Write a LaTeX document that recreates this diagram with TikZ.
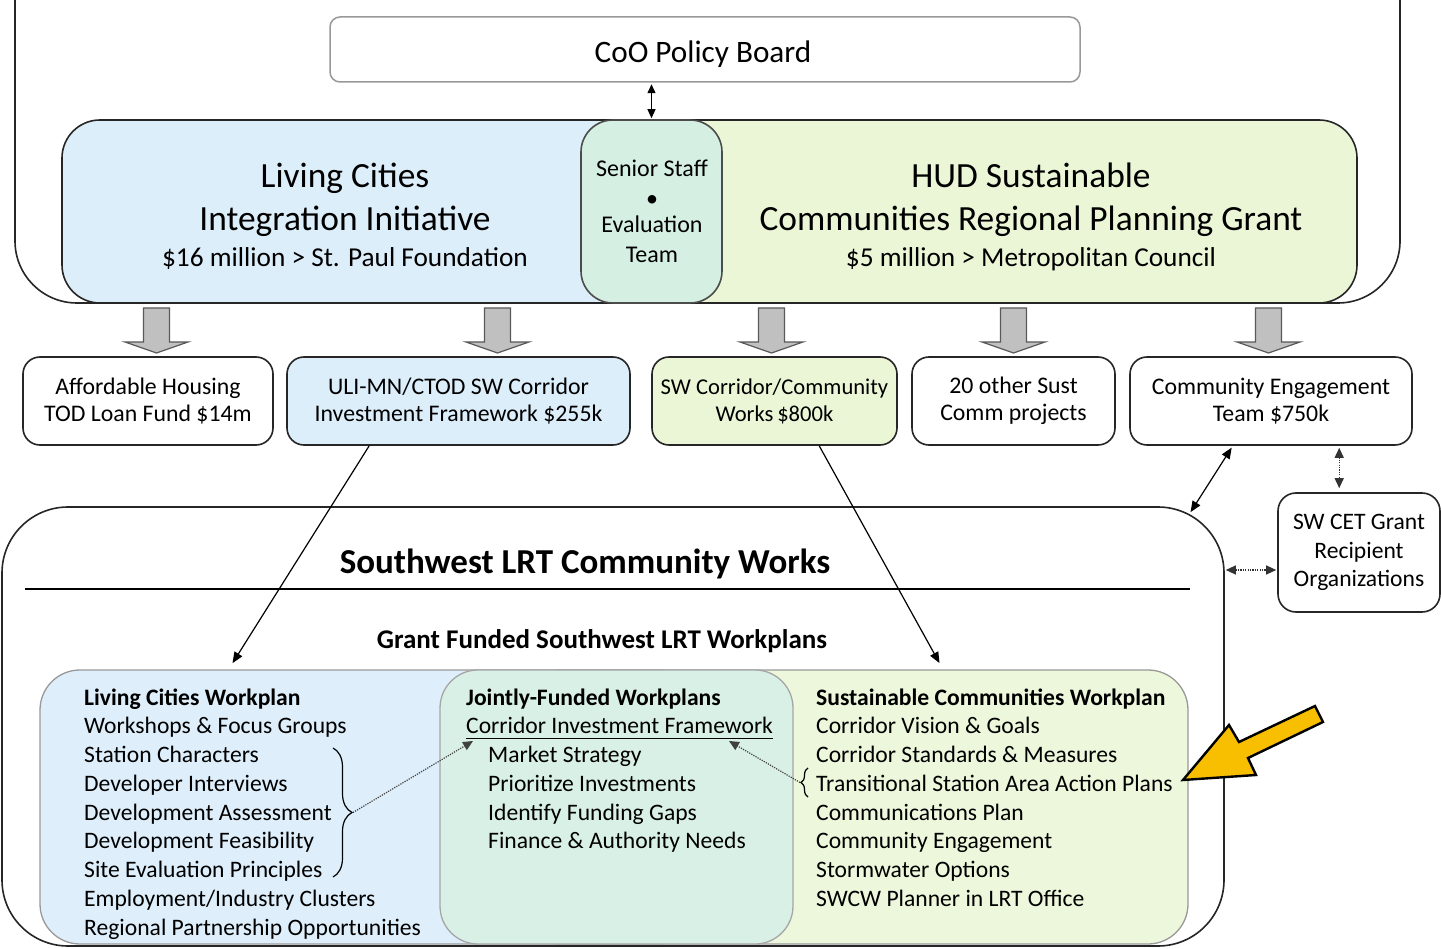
\documentclass[tikz,border=0pt]{standalone}
\usepackage{fontspec}
\setmainfont{Carlito}
\usetikzlibrary{arrows.meta,calc,fit,decorations.pathreplacing}

\definecolor{lcblue}{RGB}{221,238,251}
\definecolor{hudgreen}{RGB}{235,246,215}
\definecolor{staffteal}{RGB}{214,239,227}
\definecolor{planblue}{RGB}{222,239,251}
\definecolor{plangreen}{RGB}{236,247,220}
\definecolor{jointteal}{RGB}{217,240,231}
\definecolor{blockgray}{RGB}{192,192,192}
\definecolor{pointer}{RGB}{248,190,0}

\newcommand{\sizeat}[2]{\fontsize{#1}{#2}\selectfont}

\begin{document}
\begin{tikzpicture}[x=1pt,y=-1pt,
  box/.style={inner sep=0pt, line width=1.6pt, draw=black!85},
  rowbox/.style={box, rounded corners=17pt, minimum height=88pt, align=center,
    font=\sizeat{23.8}{27}},
  planbox/.style={inner sep=0pt, line width=1.3pt, draw=black!40, rounded corners=40pt},
  txt/.style={anchor=base, inner sep=0pt},
  item/.style={anchor=base west, inner sep=0pt, font=\sizeat{23.6}{28}},
  headitem/.style={item, font=\bfseries\sizeat{23.6}{28}},
  link/.style={-{Triangle[length=11pt,width=9pt]}, line width=1.2pt, shorten >=1pt},
  duplex/.style={{Triangle[length=11pt,width=9pt]}-{Triangle[length=11pt,width=9pt]},
    line width=1.2pt, shorten <=1pt, shorten >=1pt},
  dotduplex/.style={{Triangle[length=10pt,width=9pt]}-{Triangle[length=10pt,width=9pt]},
    line width=1.2pt, dash pattern=on 1.2pt off 1.2pt, draw=black!80,
    shorten <=1pt, shorten >=1pt},
  dotlink/.style={-{Triangle[length=10pt,width=9pt]}, line width=1.2pt,
    dash pattern=on 1.2pt off 1.2pt, draw=black!75},
  bracemark/.style={decorate, line width=1.2pt},
  downblock/.pic={\draw[fill=blockgray, draw=black!65, line width=1.2pt, line join=miter]
    (-13,0) -- (13,0) -- (13,34) -- (31.5,34) -- (0,45) -- (-31.5,34) -- (-13,34) -- cycle;}
]
\useasboundingbox (0,0) rectangle (1441,949);
\fill[white] (0,0) rectangle (1441,949);

% ---------- upper frame: policy board and the two funding programmes ----------
\draw[line width=1.6pt, draw=black!85, rounded corners=62pt]
  (15,-10) -- (15,303) -- (1400,303) -- (1400,-10);

\node[inner sep=0pt, line width=1.5pt, draw=black!40, rounded corners=10pt,
  fit={(330,17) (1080,82)}] (coo) {};
\node[txt, font=\sizeat{31.2}{34}] (cootxt) at (703,63) {CoO Policy Board};

\node[box, fill=lcblue, rounded corners=38pt, fit={(62,120) (700,303)}] (lci) {};
\node[box, fill=hudgreen, rounded corners=38pt, fit={(600,120) (1357,303)}] (hud) {};
\node[box, draw=black!70, fill=staffteal, rounded corners=32pt, fit={(581,120) (722,303)}] (staff) {};

\node[txt, font=\sizeat{35.4}{40}] (lct1) at (345,188) {Living Cities};
\node[txt, font=\sizeat{35.4}{40}] (lct2) at (345,231) {Integration Initiative};
\node[txt, font=\sizeat{27.3}{30}] (lct3) at (345,267) {\$16 million > St. Paul Foundation};

\node[txt, font=\sizeat{35.4}{40}] (hudt1) at (1031,188) {HUD Sustainable};
\node[txt, font=\sizeat{35.4}{40}] (hudt2) at (1031,231) {Communities Regional Planning Grant};
\node[txt, font=\sizeat{27.3}{30}] (hudt3) at (1031,267) {\$5 million > Metropolitan Council};

\node[txt, font=\sizeat{24}{28}] (st1) at (652,177) {Senior Staff};
\node[txt, font=\sizeat{24}{28}] (st2) at (652,207) {\textbullet};
\node[txt, font=\sizeat{24}{28}] (st3) at (652,233) {Evaluation};
\node[txt, font=\sizeat{24}{28}] (st4) at (652,263) {Team};

\draw[{Triangle[length=9pt,width=8pt]}-{Triangle[length=9pt,width=8pt]}, line width=1.3pt,
  shorten <=1.5pt, shorten >=1pt] (coo.south -| staff.north) -- (staff.north);

% ---------- funded projects ----------
\pic at (156.5,308) {downblock};
\pic at (497.5,308) {downblock};
\pic at (771.5,308) {downblock};
\pic at (1013.5,308) {downblock};
\pic at (1268.5,308) {downblock};

\node[rowbox, minimum width=250pt] (ah) at (148,401) {Affordable Housing\\TOD Loan Fund \$14m};
\node[rowbox, minimum width=343pt, fill=lcblue] (uli) at (458.5,401)
  {ULI-MN/CTOD SW Corridor\\Investment Framework \$255k};
\node[rowbox, minimum width=245pt, fill=hudgreen, font=\sizeat{22.6}{27}] (swc) at (774.5,401)
  {SW Corridor/Community\\Works\,\$800k};
\node[rowbox, minimum width=203pt] (oth) at (1013.5,401) {20 other Sust\\Comm projects};
\node[rowbox, minimum width=282pt] (ce) at (1271,401) {Community Engagement\\Team \$750k};

\node[box, rounded corners=18pt, align=center, font=\sizeat{23.6}{28.5},
  minimum width=162pt, minimum height=119pt] (cet) at (1359,552.5)
  {SW CET Grant\\Recipient\\Organizations};

% ---------- Southwest LRT Community Works ----------
\node[box, rounded corners=66pt, fit={(2,507) (1224,946)}] (swlrt) {};
\node[txt, font=\bfseries\sizeat{35}{40}] (swtitle) at (585,573) {Southwest LRT Community Works};
\draw[line width=1.2pt] (25,589) -- (1190,589);
\node[txt, font=\bfseries\sizeat{27}{32}] (grant) at (602,648) {Grant Funded Southwest LRT Workplans};

\node[planbox, fill=planblue, fit={(40,670) (700,944)}] (lcw) {};
\node[planbox, fill=plangreen, fit={(520,670) (1188,944)}] (scw) {};
\node[planbox, draw=black!35, fill=jointteal, rounded corners=38pt, fit={(440,670) (793,944)}] (jfw) {};

% Living Cities workplan
\node[headitem] (lchead) at (84,705) {Living Cities Workplan};
\foreach \t [count=\i] in {Workshops \& Focus Groups, Station Characters,
    Developer Interviews, Development Assessment, Development Feasibility,
    Site Evaluation Principles, Employment/Industry Clusters,
    Regional Partnership Opportunities}
  \node[item] (lc\i) at (84,705+28.75*\i) {\t};

% Jointly funded workplans
\node[headitem] (jfhead) at (466,705) {Jointly-Funded Workplans};
\node[item] (cif) at (466,733.75) {Corridor Investment Framework};
\draw[line width=1.3pt] ($(cif.base west)+(0,4.5)$) -- ($(cif.base east)+(0,4.5)$);
\foreach \t [count=\i from 2] in {Market Strategy, Prioritize Investments,
    Identify Funding Gaps, Finance \& Authority Needs}
  \node[item] (jf\i) at (488,705+28.75*\i) {\t};

% Sustainable Communities workplan
\node[headitem] (schead) at (816,705) {Sustainable Communities Workplan};
\foreach \t [count=\i] in {Corridor Vision \& Goals, Corridor Standards \& Measures,
    Transitional Station Area Action Plans, Communications Plan,
    Community Engagement, Stormwater Options, SWCW Planner in LRT Office}
  \node[item] (sc\i) at (816,705+28.75*\i) {\t};

% braces and the links they feed
\coordinate (lcbtop) at (333,748);
\coordinate (lcbbot) at (333,877);
\coordinate (lcbtip) at (353,812.5);
\draw[bracemark, decoration={brace, amplitude=19pt}] (lcbtop) -- (lcbbot);
\coordinate (scbbot) at (808,797);
\coordinate (scbtop) at (808,768);
\coordinate (scbtip) at (800,782.5);
\draw[bracemark, decoration={brace, amplitude=7pt}] (scbbot) -- (scbtop);

\coordinate (cifleft) at (473,741);
\coordinate (cifright) at (729,741);
\draw[dotlink] (lcbtip) -- (cifleft);
\draw[dotlink] (scbtip) -- (cifright);

% ---------- connectors between levels ----------
\coordinate (lcin) at (232,664);
\coordinate (scin) at (940,664);
\draw[link] ($(uli.south west)+(83,0)$) -- (lcin);
\draw[link] ($(swc.south west)+(168,0)$) -- (scin);

\coordinate (swnotch) at (1190,513);
\draw[duplex] ($(ce.south west)+(103,1)$) -- (swnotch);
\draw[dotduplex] ($(ce.south west)+(210,1)$) -- ($(cet.north west)+(62,-3)$);
\coordinate (cetport) at ($(cet.west)+(0,17.5)$);
\draw[dotduplex] (swlrt.east |- cetport) -- (cetport);

% ---------- call-out arrow ----------
\draw[fill=pointer, draw=black, line width=2.4pt, line join=miter]
  (1183,780) -- (1256,775) -- (1248,758) -- (1323,722) -- (1315,706)
  -- (1239,742) -- (1229,725) -- cycle;
\end{tikzpicture}
\end{document}
